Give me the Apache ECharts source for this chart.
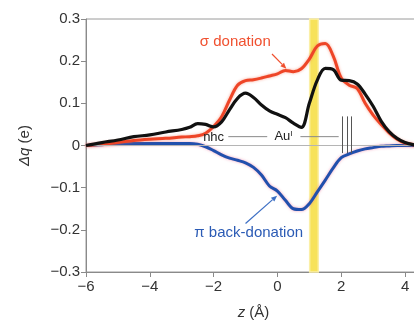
<!DOCTYPE html>
<html>
<head>
<meta charset="utf-8">
<script src="https://cdn.jsdelivr.net/npm/echarts@6/dist/echarts.min.js"></script>
<style>
html,body{margin:0;padding:0;background:#fff;}
#chart{width:414px;height:322px;}
</style>
</head>
<body>
<div id="chart"></div>
<script>
// z positions (Å)
const zValues = [-6, -5.5, -5, -4.5, -4, -3.5, -3, -2.75, -2.5, -2.25, -2, -1.75, -1.5, -1.25, -1, -0.75, -0.5, -0.25, 0, 0.25, 0.5, 0.75, 1, 1.25, 1.5, 1.75, 2, 2.25, 2.5, 2.75, 3, 3.25, 3.5, 3.75, 4, 4.25, 4.5];
// σ donation (red)
const sigmaDonation = [0, 0.003, 0.007, 0.012, 0.015, 0.017, 0.02, 0.021, 0.023, 0.029, 0.045, 0.068, 0.108, 0.143, 0.154, 0.156, 0.16, 0.165, 0.17, 0.178, 0.175, 0.182, 0.205, 0.236, 0.242, 0.212, 0.16, 0.143, 0.135, 0.1, 0.072, 0.05, 0.03, 0.015, 0.006, 0.002, 0];
// total Δq (black)
const totalCharge = [0, 0.007, 0.013, 0.021, 0.025, 0.032, 0.038, 0.043, 0.052, 0.05, 0.044, 0.056, 0.085, 0.112, 0.124, 0.114, 0.096, 0.082, 0.074, 0.066, 0.053, 0.043, 0.1, 0.155, 0.183, 0.18, 0.155, 0.154, 0.146, 0.122, 0.093, 0.058, 0.033, 0.017, 0.007, 0.002, 0];
// π back-donation (blue)
const piBackDonation = [0, 0.002, 0.004, 0.005, 0.005, 0.005, 0.005, 0.005, 0.003, -0.003, -0.012, -0.022, -0.03, -0.035, -0.041, -0.052, -0.07, -0.096, -0.108, -0.13, -0.15, -0.152, -0.138, -0.11, -0.082, -0.053, -0.029, -0.02, -0.013, -0.008, -0.005, -0.002, -0.001, 0, 0, 0, 0];
// tick labels
const yTickLabels = ['−0.3', '−0.2', '−0.1', '0', '0.1', '0.2', '0.3'];
const xTickLabels = ['−6', '−4', '−2', '0', '2', '4'];
// yellow band (Au position)
const bandRange = [1.01, 1.28];

const pair = arr => zValues.map((z, i) => [z, arr[i]]);
const FONT = '"Liberation Sans", Arial, sans-serif';

const chart = echarts.init(document.getElementById('chart'), null, {renderer: 'canvas'});
const option = {
  animation: false,
  backgroundColor: '#fff',
  grid: {left: 86, right: -7, top: 19, bottom: 50, containLabel: false, outerBoundsMode: 'none',
    show: true, borderColor: '#9a9a9a', borderWidth: 1},
  xAxis: {
    type: 'value', min: -6, max: 4.5, interval: 2,
    name: '{i|z} (Å)', nameLocation: 'middle', nameGap: 33,
    nameTextStyle: {fontFamily: FONT, fontSize: 15, color: '#333', rich: {i: {fontStyle: 'italic', fontFamily: FONT, fontSize: 15, color: '#333'}}},
    axisLine: {show: true, onZero: false, lineStyle: {color: '#8a8a8a', width: 1}},
    axisTick: {show: true, length: 5, lineStyle: {color: '#8a8a8a'}},
    axisLabel: {fontFamily: FONT, fontSize: 15, color: '#333', margin: 7, showMaxLabel: false,
      formatter: v => { const i = [-6,-4,-2,0,2,4].indexOf(v); return i >= 0 ? xTickLabels[i] : ''; }},
    splitLine: {show: false}
  },
  yAxis: {
    type: 'value', min: -0.3, max: 0.3, interval: 0.1,
    name: '{i|Δq} (e)', nameLocation: 'middle', nameGap: 54,
    nameTextStyle: {fontFamily: FONT, fontSize: 15, color: '#333', rich: {i: {fontStyle: 'italic', fontFamily: FONT, fontSize: 15, color: '#333'}}},
    axisLine: {show: true, onZero: false, lineStyle: {color: '#8a8a8a', width: 1}},
    axisTick: {show: true, length: 5, lineStyle: {color: '#8a8a8a'}},
    axisLabel: {fontFamily: FONT, fontSize: 15, color: '#333', margin: 6,
      formatter: v => yTickLabels[Math.round(v * 10) + 3]},
    splitLine: {show: false}
  },
  series: [
    {
      type: 'line', name: 'pi', data: pair(piBackDonation), smooth: 0.35, showSymbol: false, z: 3,
      lineStyle: {color: '#2150ad', width: 3, shadowBlur: 3, shadowColor: 'rgba(235,100,140,0.6)'},
      markArea: {silent: true, itemStyle: {color: '#f7e25a', borderColor: '#fbefa6', borderWidth: 1.5},
        data: [[{xAxis: bandRange[0]}, {xAxis: bandRange[1]}]]},
      markLine: {silent: true, symbol: 'none', label: {show: false},
        lineStyle: {color: '#b5b5b5', width: 1, type: 'solid'}, data: [{yAxis: 0}]}
    },
    {
      type: 'line', name: 'sigma', data: pair(sigmaDonation), smooth: 0.35, showSymbol: false, z: 4,
      lineStyle: {color: '#ee4527', width: 3, shadowBlur: 3, shadowColor: 'rgba(245,110,80,0.6)'}
    },
    {
      type: 'line', name: 'total', data: pair(totalCharge), smooth: 0.35, showSymbol: false, z: 5,
      lineStyle: {color: '#111', width: 3.2}
    }
  ]
};
chart.setOption(option);

// annotations in data coordinates
const sigmaLabel = {text: 'σ donation', at: [-1.32, 0.245], color: '#f0502f'};
const piLabel = {text: 'π back-donation', at: [-0.9, -0.206], color: '#2b5bb5'};
const sigmaArrow = [[-0.17, 0.217], [0.28, 0.182]];
const piArrow = [[-1.0, -0.185], [-0.01, -0.119]];
const nhcLabel = [-2.0, 0.019];
const auLabel = [0.19, 0.021];
const bondLines = [[[-1.54, 0.021], [-0.32, 0.021]], [[0.72, 0.021], [1.92, 0.021]]];
const vertLinesX = [2.03, 2.19, 2.31];
const vertRange = [0.069, -0.018];

const P = p => chart.convertToPixel({gridIndex: 0}, p);
function arrow(a, b, color) {
  const pa = P(a), pb = P(b);
  const ang = Math.atan2(pb[1] - pa[1], pb[0] - pa[0]);
  const L = 6, W = 2.6;
  const base = [pb[0] - L * Math.cos(ang), pb[1] - L * Math.sin(ang)];
  const n = [-Math.sin(ang), Math.cos(ang)];
  return [
    {type: 'line', shape: {x1: pa[0], y1: pa[1], x2: base[0], y2: base[1]}, style: {stroke: color, lineWidth: 1.2}, z: 20},
    {type: 'polygon', shape: {points: [pb, [base[0] + n[0] * W, base[1] + n[1] * W], [base[0] - n[0] * W, base[1] - n[1] * W]]}, style: {fill: color}, z: 20}
  ];
}
const g = [];
[sigmaLabel, piLabel].forEach(l => {
  const p = P(l.at);
  g.push({type: 'text', x: p[0], y: p[1], z: 20, style: {text: l.text, fill: l.color, font: '15px ' + FONT, align: 'center', verticalAlign: 'middle'}});
});
g.push(...arrow(sigmaArrow[0], sigmaArrow[1], '#f0502f'));
g.push(...arrow(piArrow[0], piArrow[1], '#3d6fc4'));
const pn = P(nhcLabel);
g.push({type: 'text', x: pn[0], y: pn[1], z: 20, style: {text: 'nhc', fill: '#222', font: '13px ' + FONT, align: 'center', verticalAlign: 'middle'}});
const pau = P(auLabel);
g.push({type: 'text', x: pau[0], y: pau[1], z: 20, style: {rich: {s: {fontSize: 8, verticalAlign: 'top', padding: [0,0,6,0], fill: '#222'}}, text: 'Au{s|I}', fill: '#222', font: '13px ' + FONT, align: 'center', verticalAlign: 'middle'}});
bondLines.forEach(l => {
  const a = P(l[0]), b = P(l[1]);
  g.push({type: 'line', shape: {x1: a[0], y1: a[1], x2: b[0], y2: b[1]}, style: {stroke: '#8a8a8a', lineWidth: 1}, z: 20});
});
vertLinesX.forEach(x => {
  const a = P([x, vertRange[0]]), b = P([x, vertRange[1]]);
  g.push({type: 'line', shape: {x1: Math.round(a[0]) + 0.5, y1: a[1], x2: Math.round(b[0]) + 0.5, y2: b[1]}, style: {stroke: '#555', lineWidth: 1}, z: 20});
});
chart.setOption({graphic: g});
</script>
</body>
</html>
